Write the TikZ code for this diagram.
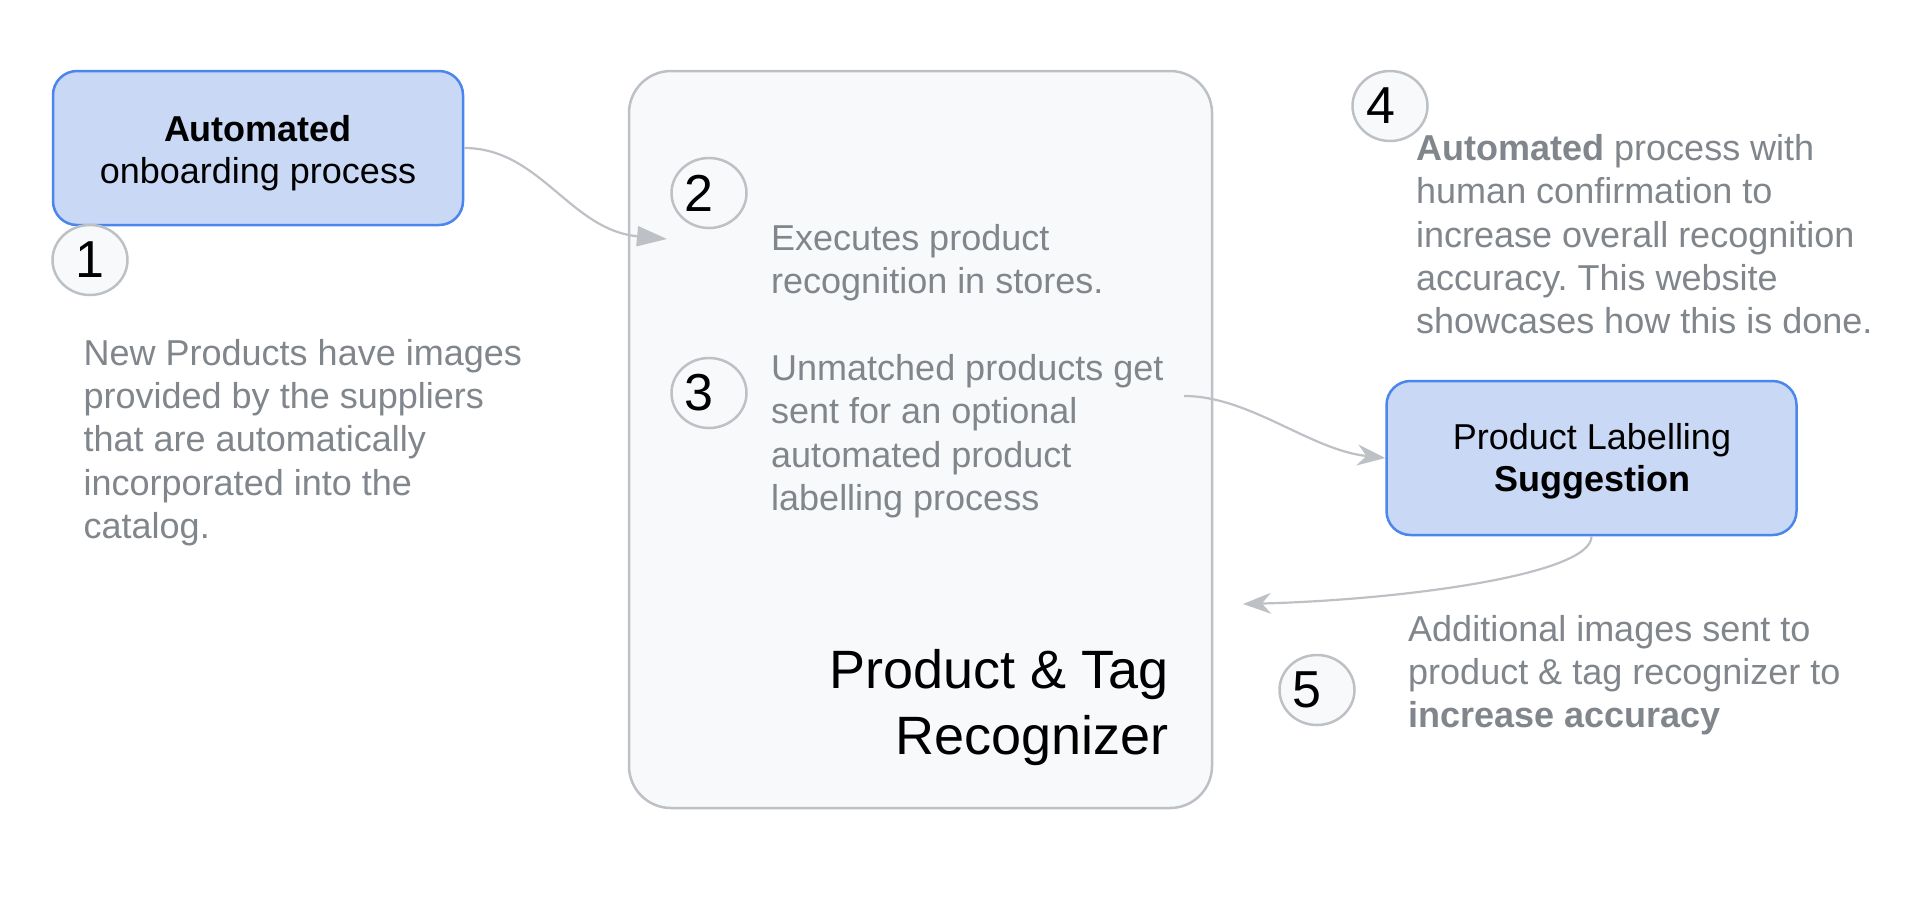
\documentclass[tikz,border=0pt]{standalone}
\usepackage{fontspec}
\setmainfont{Liberation Sans}
\usetikzlibrary{arrows.meta,shapes.geometric}
\definecolor{bluefill}{HTML}{C9D8F4}
\definecolor{bluestroke}{HTML}{4A86EC}
\definecolor{graystroke}{HTML}{BDC1C6}
\definecolor{panelfill}{HTML}{F8F9FA}
\definecolor{textgray}{HTML}{80868B}
\frenchspacing
\newcommand\myLinesL[1]{\vtop{\halign{##\hfil\cr#1\crcr}}}
\newcommand\myLinesC[1]{\vtop{\halign{\hfil##\hfil\cr#1\crcr}}}
\newcommand\myLinesR[1]{\vtop{\halign{\hfil##\cr#1\crcr}}}
\begin{document}
\begin{tikzpicture}[x=1pt,y=-1pt,
  bluebox/.style={draw=bluestroke,fill=bluefill,line width=2.5pt,rounded corners=24pt,
    minimum width=410pt,minimum height=154pt,inner sep=0pt},
  panel/.style={draw=graystroke,fill=panelfill,line width=2.5pt,rounded corners=42pt,
    minimum width=583pt,minimum height=737pt,inner sep=0pt},
  numcirc/.style={ellipse,draw=graystroke,fill=panelfill,line width=2.5pt,
    minimum width=75pt,minimum height=70pt,inner sep=0pt,
    font=\fontsize{52}{60}\selectfont,text=black},
  graytext/.style={inner sep=0pt,anchor=base west,text=textgray,
    font=\fontsize{36}{43.2}\selectfont},
  boxtext/.style={inner sep=0pt,anchor=base,text=black,
    font=\fontsize{36}{42}\selectfont},
  bigtitle/.style={inner sep=0pt,anchor=base east,text=black,
    font=\fontsize{54}{66}\selectfont},
  conn/.style={draw=graystroke,line width=2.2pt},
  tri/.style={-{Triangle[length=30pt,width=20pt]}},
  stl/.style={-{Stealth[length=28pt,width=21pt,inset=9pt]}}
]
\fill[white] (0,0) rectangle (1930,900);
\useasboundingbox (0,0) rectangle (1930,900);

% boxes
\node[panel] (panel) at (920.5,439.5) {};
\node[bluebox] (b1) at (258,148) {};
\node[bluebox] (b5) at (1591.5,458) {};

% box texts
\node[boxtext] (b1t) at (258,141.6) {\myLinesC{\textbf{Automated}\cr onboarding process}};
\node[boxtext] (b5t) at (1592,449.5) {\myLinesC{Product Labelling\cr \textbf{Suggestion}}};
\node[bigtitle] (pt) at (1169,688) {\myLinesR{Product \& Tag\cr Recognizer}};

% number circles
\node[numcirc] (n1) at (90,260) {1};
\node[numcirc] (n2) at (709,193) {\kern-20pt 2};
\node[numcirc] (n3) at (709,393) {\kern-20pt 3};
\node[numcirc] (n4) at (1390,106) {\kern-18pt 4};
\node[numcirc] (n5) at (1317,690) {\kern-20pt 5};

% gray texts
\node[graytext] (t1) at (83.5,365.5) {\myLinesL{New Products have images\cr provided by the suppliers\cr that are automatically\cr incorporated into the\cr catalog.}};
\node[graytext] (t2) at (771,250) {\myLinesL{Executes product\cr recognition in stores.}};
\node[graytext] (t3) at (771,380.6) {\myLinesL{Unmatched products get\cr sent for an optional\cr automated product\cr labelling process}};
\node[graytext] (t4) at (1416,160.7) {\myLinesL{\textbf{Automated} process with\cr human confirmation to\cr increase overall recognition\cr accuracy. This website\cr showcases how this is done.}};
\node[graytext] (t5) at (1408,641.5) {\myLinesL{Additional images sent to\cr product \& tag recognizer to\cr \textbf{increase accuracy}}};

% connector ends
\coordinate (a1end) at (667,239);
\coordinate (a2start) at (1184,396);
\coordinate (a3end) at (1243,604);

% connectors
\draw[conn,tri] (b1.east) .. controls (540,148) and (570,230) .. (a1end);
\draw[conn,stl] (a2start) .. controls (1250,396) and (1310,450) .. (b5.west);
\draw[conn,stl] (b5.south) .. controls (1592,575) and (1400,600) .. (a3end);
\end{tikzpicture}
\end{document}
